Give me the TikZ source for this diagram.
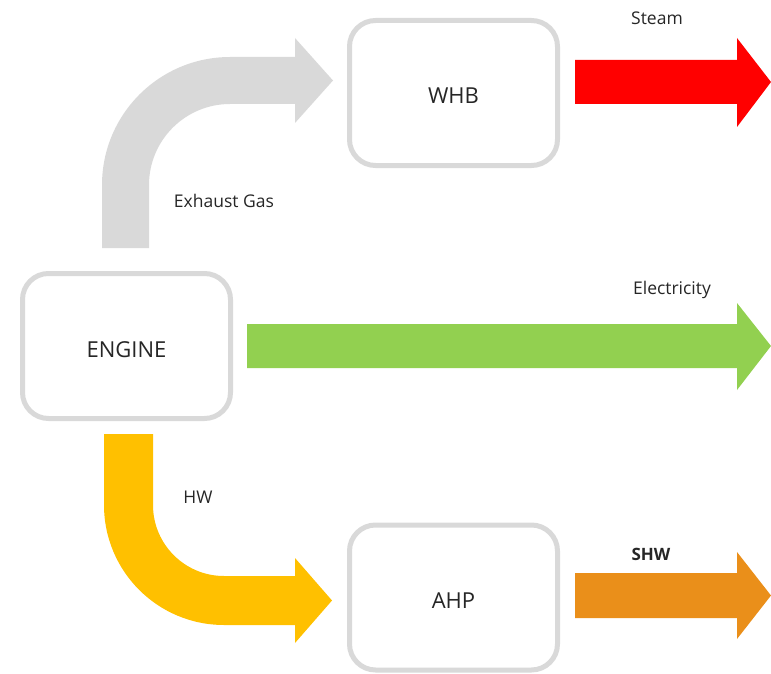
\documentclass[tikz,border=0pt]{standalone}
\usepackage{fontspec}
\setmainfont{Open Sans}
\definecolor{boxgray}{HTML}{D9D9D9}
\definecolor{gasgray}{HTML}{D9D9D9}
\definecolor{steamred}{HTML}{FF0000}
\definecolor{elecgreen}{HTML}{92D050}
\definecolor{hwyellow}{HTML}{FFC000}
\definecolor{shworange}{HTML}{EA8F1A}
\definecolor{txt}{HTML}{262626}
\tikzset{
  unit/.style={draw=boxgray, line width=5pt, rounded corners=26pt, fill=white,
    minimum width=208pt, minimum height=145pt, inner sep=0pt,
    text height=22pt, text depth=0pt,
    font=\fontsize{22}{26}\selectfont, text=txt},
  flowlabel/.style={font=\fontsize{17.5}{21}\selectfont, text=txt, inner sep=0pt},
}
\begin{document}
\begin{tikzpicture}[x=1pt, y=-1pt]
\useasboundingbox (0,0) rectangle (771,674);

% process units
\node[unit] (engine) at (126.5,346) {ENGINE};
\node[unit] (whb) at (453.5,93) {WHB};
\node[unit] (ahp) at (453.5,597.5) {AHP};

% exhaust gas: bent arrow from the engine up into the WHB
\fill[gasgray] (102,248) -- (102,185) arc[start angle=180, end angle=270, radius=128]
  -- (295,57) -- (295,38) -- (333,80.5) -- (295,123) -- (295,104) -- (230,104)
  arc[start angle=270, end angle=180, radius=81] -- (149,248) -- cycle;

% hot water: bent arrow from the engine down into the AHP
\fill[hwyellow] (104,434) -- (104,505) arc[start angle=180, end angle=90, radius=120]
  -- (295,625) -- (295,643) -- (332,600.5) -- (295,558) -- (295,576) -- (224,576)
  arc[start angle=90, end angle=180, radius=71] -- (153,434) -- cycle;

% outgoing straight block arrows
\fill[steamred] (575,60) -- (737,60) -- (737,38) -- (771,82) -- (737,127) -- (737,104) -- (575,104) -- cycle;
\fill[elecgreen] (247,324) -- (737,324) -- (737,303) -- (771,346) -- (737,390) -- (737,368) -- (247,368) -- cycle;
\fill[shworange] (575,573) -- (737,573) -- (737,552) -- (771,595.5) -- (737,639) -- (737,618) -- (575,618) -- cycle;

% flow labels
\node[flowlabel] (lsteam) at (657,18.5) {Steam};
\node[flowlabel] (lgas) at (224,201) {Exhaust Gas};
\node[flowlabel] (lelec) at (672,290) {Electricity};
\node[flowlabel] (lhw) at (198,497) {HW};
\node[flowlabel, font=\fontsize{17}{21}\selectfont\bfseries] (lshw) at (651,554) {SHW};
\end{tikzpicture}
\end{document}
